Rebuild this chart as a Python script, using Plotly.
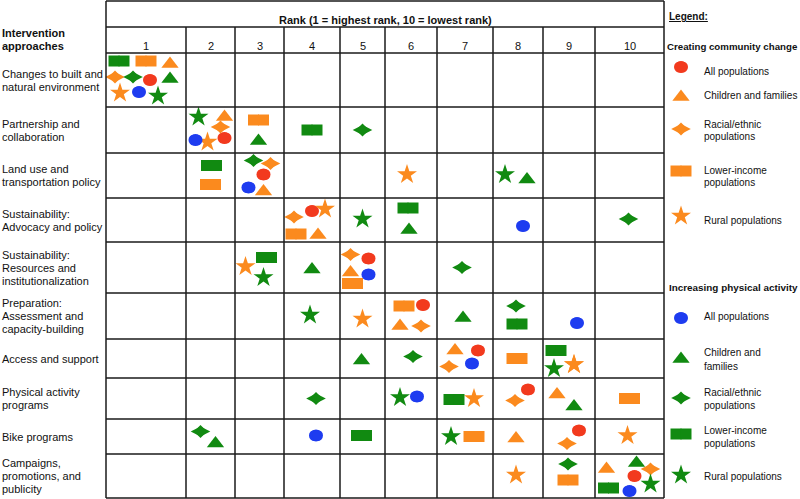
import plotly.graph_objects as go

# ---------------- data ----------------
approaches = [
    "Changes to built and<br>natural environment",
    "Partnership and<br>collaboration",
    "Land use and<br>transportation policy",
    "Sustainability:<br>Advocacy and policy",
    "Sustainability:<br>Resources and<br>institutionalization",
    "Preparation:<br>Assessment and<br>capacity-building",
    "Access and support",
    "Physical activity<br>programs",
    "Bike programs",
    "Campaigns,<br>promotions, and<br>publicity",
]
rank_labels = ["1", "2", "3", "4", "5", "6", "7", "8", "9", "10"]
goals = ["Creating community change", "Increasing physical activity"]

# one entry per ranked item: approach row (1-10), rank (1-10), goal (CC/PA), population code
m_row = [1]*10 + [2]*10 + [3]*10 + [4]*10 + [5]*10 + [6]*10 + [7]*11 + [8]*10 + [9]*10 + [10]*10
m_rank = [
    1, 1, 1, 1, 1, 1, 1, 1, 1, 1,
    2, 2, 2, 2, 2, 2, 3, 3, 4, 5,
    2, 2, 3, 3, 3, 3, 3, 6, 8, 8,
    4, 4, 4, 4, 4, 5, 6, 6, 8, 10,
    3, 3, 3, 4, 5, 5, 5, 5, 5, 7,
    4, 5, 6, 6, 6, 6, 7, 8, 8, 9,
    5, 6, 7, 7, 7, 7, 8, 9, 9, 9, 9,
    4, 6, 6, 7, 7, 8, 8, 9, 9, 10,
    2, 2, 4, 5, 7, 7, 8, 9, 9, 10,
    8, 9, 9, 10, 10, 10, 10, 10, 10, 10,
]
m_goal = [
    "PA", "CC", "CC", "CC", "PA", "CC", "PA", "CC", "PA", "PA",
    "PA", "CC", "CC", "PA", "CC", "CC", "CC", "PA", "PA", "PA",
    "PA", "CC", "PA", "CC", "CC", "PA", "CC", "CC", "PA", "PA",
    "CC", "CC", "CC", "CC", "CC", "PA", "PA", "PA", "PA", "PA",
    "CC", "PA", "PA", "PA", "CC", "CC", "CC", "PA", "CC", "PA",
    "PA", "CC", "CC", "CC", "CC", "CC", "PA", "PA", "PA", "PA",
    "PA", "PA", "CC", "CC", "CC", "PA", "CC", "PA", "PA", "CC", "CC",
    "PA", "PA", "PA", "PA", "CC", "CC", "CC", "CC", "PA", "CC",
    "PA", "PA", "PA", "PA", "PA", "CC", "CC", "CC", "CC", "CC",
    "CC", "PA", "CC", "CC", "PA", "CC", "CC", "PA", "PA", "PA",
]
m_pop = [
    "low", "low", "child", "race", "race", "all", "child", "rural", "all", "rural",
    "rural", "child", "race", "all", "rural", "all", "low", "child", "low", "race",
    "low", "low", "race", "race", "all", "all", "child", "rural", "rural", "child",
    "race", "all", "rural", "low", "child", "rural", "low", "child", "all", "race",
    "rural", "low", "rural", "child", "race", "all", "child", "all", "low", "race",
    "rural", "rural", "low", "all", "child", "race", "child", "race", "low", "all",
    "child", "race", "child", "all", "race", "all", "low", "low", "rural", "rural", "rural",
    "race", "rural", "all", "low", "rural", "all", "race", "child", "child", "low",
    "race", "child", "all", "low", "rural", "low", "child", "all", "race", "rural",
    "rural", "race", "low", "child", "child", "race", "all", "low", "all", "rural",
]

# ---------------- layout (pixel geometry & in-cell placement) ----------------
W, H = 800, 499
col_edges = [106, 186, 235, 284, 340, 385, 437, 493, 543, 595, 664]
row_edges = [53, 107, 153, 198, 242, 293, 339, 378, 419, 454, 498]
# offsets of each item from its cell centre (px)
m_dx = [
    -27, 0, 24, -31, -13, 4, 24, -26, -7, 12,
    -12, 14, 10, -15, -3, 14, -1, -1, 0, 0,
    1, 0, -6, 11, 4, -11, 4, -4, -13, 9,
    -18, 0, 13, -16, 6, 0, -3, -2, 5, -1,
    -14, 7, 4, 0, -12, 6, -12, 6, -10, -3,
    -2, 0, -7, 12, -11, 10, -2, -2, -1, 8,
    -1, 2, -10, 13, -16, 7, -1, -13, -15, 5, 5,
    4, -11, 6, -11, 9, 10, -3, -12, 5, 0,
    -10, 5, 4, -1, -14, 9, -2, 10, -2, -2,
    -2, -1, -1, -23, 7, 21, 5, -21, 0, 21,
]
m_dy = [
    -19, -19, -18, -3, -3, 0, -3, 13, 12, 16,
    -13, -15, -3, 10, 12, 8, -10, 9, 0, 0,
    -10, 9, -15, -12, -1, 12, 14, -1, -1, 2,
    -3, -9, -11, 14, 13, -1, -12, 8, 6, -1,
    -1, -10, 10, 0, -13, -9, 3, 7, 16, 0,
    -1, 3, -10, -11, 8, 10, 0, -10, 8, 7,
    0, -2, -10, -8, 8, 5, 0, -8, 10, 6, 6,
    0, -1, -2, 1, 0, -9, 2, -6, 6, 0,
    -5, 5, -1, -1, 0, 0, 0, -6, 7, -1,
    -1, -12, 4, -9, -15, -7, 0, 12, 15, 8,
]

ORANGE = "#FB8A1E"
GREEN = "#118A11"
RED = "#F23A1E"
BLUE = "#1E3CF0"
FONT = "Arial, Liberation Sans, sans-serif"
LINE = "#1a1a1a"
FS = 11
FS_LEG = 10


def color_of(g, p):
    if p == "all":
        return RED if g == "CC" else BLUE
    return ORANGE if g == "CC" else GREEN


def scatter(fig, xx, yy, sym, size, col):
    fig.add_trace(go.Scatter(
        x=xx, y=yy, mode="markers", showlegend=False, hoverinfo="skip",
        marker=dict(symbol=sym, size=size, color=col, line=dict(width=0)),
    ))


def add_marks(fig, xs, ys, g, p):
    col = color_of(g, p)
    if p == "low":  # wide rectangle = two abutting squares
        xx = [x + d for x in xs for d in (-5, 5)]
        yy = [y for y in ys for _ in (0, 1)]
        scatter(fig, xx, yy, "square", 11, col)
    elif p == "race":  # wide diamond
        scatter(fig, xs, ys, "diamond-wide", 14, col)
        scatter(fig, xs, ys, "diamond", 10, col)
    elif p == "child":
        scatter(fig, xs, [y + 2 for y in ys], "triangle-up", 15, col)
    elif p == "all":
        scatter(fig, xs, ys, "circle", 12, col)
        scatter(fig, [x - 1.5 for x in xs], ys, "circle", 11, col)
        scatter(fig, [x + 1.5 for x in xs], ys, "circle", 11, col)
    else:
        scatter(fig, xs, ys, "star", 15, col)


fig = go.Figure()

# grid
shapes = []
lw = 1.5
shapes.append(dict(type="line", x0=col_edges[0], x1=col_edges[-1], y0=1, y1=1))
shapes.append(dict(type="line", x0=col_edges[0], x1=col_edges[-1], y0=27, y1=27))
for y in row_edges:
    shapes.append(dict(type="line", x0=col_edges[0], x1=col_edges[-1], y0=y, y1=y))
shapes.append(dict(type="line", x0=col_edges[0], x1=col_edges[0], y0=1, y1=row_edges[-1]))
shapes.append(dict(type="line", x0=col_edges[-1], x1=col_edges[-1], y0=1, y1=row_edges[-1]))
for x in col_edges[1:-1]:
    shapes.append(dict(type="line", x0=x, x1=x, y0=27, y1=row_edges[-1]))
for s in shapes:
    s.update(xref="x", yref="y", line=dict(color=LINE, width=lw), layer="above")

ann = []


def text(x, y, t, size=FS, bold=False, anchor="left", underline=False):
    if bold:
        t = "<b>" + t + "</b>"
    if underline:
        t = "<u>" + t + "</u>"
    ann.append(dict(x=x, y=y, text=t, xref="x", yref="y", showarrow=False, xanchor=anchor,
                    yanchor="middle", font=dict(family=FONT, size=size, color="#111")))


# headers
text(385, 20, "Rank (1 = highest rank, 10 = lowest rank)", bold=True, anchor="center")
text(0, 33, "Intervention", bold=True)
text(0, 46, "approaches", bold=True)
for i, lab in enumerate(rank_labels):
    text((col_edges[i] + col_edges[i + 1]) / 2, 46, lab, anchor="center")

# row labels
for i, lab in enumerate(approaches):
    lines = lab.split("<br>")
    cyy = (row_edges[i] + row_edges[i + 1]) / 2
    sp = 13
    start = cyy - sp * (len(lines) - 1) / 2
    for j, ln in enumerate(lines):
        text(0, start + j * sp, ln)

# markers
cx = {r: (col_edges[r - 1] + col_edges[r]) / 2 for r in range(1, 11)}
cy = {r: (row_edges[r - 1] + row_edges[r]) / 2 for r in range(1, 11)}
n = min(len(m_row), len(m_rank), len(m_goal), len(m_pop), len(m_dx), len(m_dy))
for g in ["CC", "PA"]:
    for p in ["all", "child", "race", "low", "rural"]:
        xs, ys = [], []
        for k in range(n):
            if m_goal[k] == g and m_pop[k] == p:
                xs.append(cx[m_rank[k]] + m_dx[k])
                ys.append(cy[m_row[k]] + m_dy[k])
        if xs:
            add_marks(fig, xs, ys, g, p)

# legend
text(667, 16, "Legend:", size=FS_LEG, bold=True, underline=True)
text(665, 46, goals[0], size=9.7, bold=True)
text(667, 287, goals[1], size=9.9, bold=True)
pops = ["all", "child", "race", "low", "rural"]
leg_cc_y = [67, 95, 129, 171, 216]
leg_cc_txt = [[71], [95], [124, 136], [170, 182], [220]]
leg_pa_y = [318, 357, 398, 434, 475]
leg_pa_txt = [[316], [352, 366], [392, 405], [430, 443], [476]]
split_cc = [["All populations"], ["Children and families"], ["Racial/ethnic", "populations"],
            ["Lower-income", "populations"], ["Rural populations"]]
split_pa = [["All populations"], ["Children and", "families"], ["Racial/ethnic", "populations"],
            ["Lower-income", "populations"], ["Rural populations"]]
for g, ly, lt, sp in [("CC", leg_cc_y, leg_cc_txt, split_cc), ("PA", leg_pa_y, leg_pa_txt, split_pa)]:
    for i, p in enumerate(pops):
        add_marks(fig, [681], [ly[i]], g, p)
        for yy, t in zip(lt[i], sp[i]):
            text(702, yy, t, size=FS_LEG)

fig.update_layout(
    width=W, height=H, margin=dict(l=0, r=0, t=0, b=0),
    paper_bgcolor="white", plot_bgcolor="white",
    xaxis=dict(range=[0, W], visible=False, fixedrange=True),
    yaxis=dict(range=[H, 0], visible=False, fixedrange=True),
    shapes=shapes, annotations=ann, showlegend=False,
)
fig.write_html("out.html", config={"displayModeBar": False},
               post_script="document.body.style.margin='0';document.body.style.overflow='hidden';")
